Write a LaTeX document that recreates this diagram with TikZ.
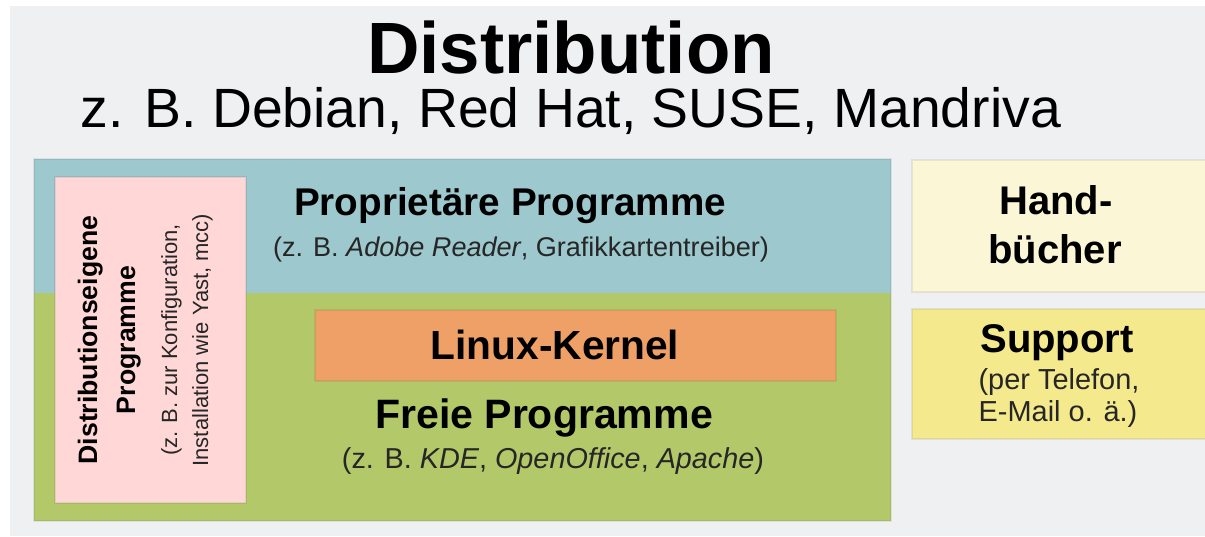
\documentclass[tikz,border=0pt]{standalone}
\usepackage{fontspec}
\setmainfont{Liberation Sans}

\definecolor{panelgray}{RGB}{239,240,242}
\definecolor{propblue}{RGB}{156,200,206}
\definecolor{freegreen}{RGB}{179,201,105}
\definecolor{distpink}{RGB}{255,215,215}
\definecolor{kernelorange}{RGB}{238,160,103}
\definecolor{manualyellow}{RGB}{251,246,214}
\definecolor{supportyellow}{RGB}{244,233,140}

\begin{document}
\begin{tikzpicture}[x=0.75pt,y=0.75pt,yscale=-1,xscale=1,
    layer/.style={draw=black,draw opacity=0.07,line width=1.5},
    head/.style={inner sep=0pt,anchor=base,font=\fontsize{30}{35}\selectfont\bfseries},
    note/.style={inner sep=0pt,anchor=base,text=black!85,font=\fontsize{21}{25}\selectfont},
    sidehead/.style={inner sep=0pt,anchor=base,rotate=90,font=\fontsize{20}{24}\selectfont\bfseries},
    sidenote/.style={inner sep=0pt,anchor=base,rotate=90,text=black!85,font=\fontsize{16.5}{20}\selectfont}]
        \useasboundingbox (0,0) rectangle (1205,536);

        %Shape: Rectangle [panel]
        \fill [panelgray] (10,6) rectangle (1205,536) ;
        %Shape: Rectangle [proprietary]
        \fill [propblue] (34,159) rectangle (891,293) ;
        %Shape: Rectangle [free]
        \fill [freegreen] (34,293) rectangle (891,521) ;
        \draw [layer] (34,159) rectangle (891,521) ;
        %Shape: Rectangle [distribution tools]
        \draw [layer,fill=distpink] (55,177) rectangle (246,503) ;
        %Shape: Rectangle [kernel]
        \draw [layer,fill=kernelorange] (315,310) rectangle (836,381) ;
        %Shape: Rectangle [manuals]
        \draw [layer,fill=manualyellow] (912,160) rectangle (1206,292) ;
        %Shape: Rectangle [support]
        \draw [layer,fill=supportyellow] (912,309) rectangle (1206,439) ;

        % Text Node
        \node (title) [inner sep=0pt,anchor=base,font=\fontsize{54.5}{60}\selectfont\bfseries] at (571,73) {Distribution};
        % Text Node
        \node (examples) [inner sep=0pt,anchor=base,font=\fontsize{41.5}{46}\selectfont] at (571,127) {z. B. Debian, Red Hat, SUSE, Mandriva};
        % Text Node
        \node (prop) [head,font=\fontsize{29}{35}\selectfont\bfseries] at (510,215) {Proprietäre Programme};
        % Text Node
        \node (propnote) [note,font=\fontsize{20.3}{25}\selectfont] at (521,256) {(z. B. \textit{Adobe Reader}, Grafikkartentreiber)};
        % Text Node
        \node (kernel) [head,font=\fontsize{30.5}{35}\selectfont\bfseries] at (555,359) {Linux-Kernel};
        % Text Node
        \node (free) [head,font=\fontsize{30.8}{35}\selectfont\bfseries] at (544,428) {Freie Programme};
        % Text Node
        \node (freenote) [note,font=\fontsize{21.6}{25}\selectfont] at (553,468) {(z. B. \textit{KDE}, \textit{OpenOffice}, \textit{Apache})};
        % Text Node
        \node (handA) [head] at (1056,214) {Hand-};
        % Text Node
        \node (handB) [head] at (1055,263) {bücher};
        % Text Node
        \node (support) [head] at (1057,352) {Support};
        % Text Node
        \node (supportA) [note,font=\fontsize{21.7}{25}\selectfont] at (1059,389) {(per Telefon,};
        % Text Node
        \node (supportB) [note,font=\fontsize{21.7}{25}\selectfont] at (1058,421) {E-Mail o. ä.)};
        % Text Node
        \node (distA) [sidehead] at (97,340) {Distributionseigene};
        % Text Node
        \node (distB) [sidehead] at (135,340) {Programme};
        % Text Node
        \node (distC) [sidenote] at (177,340) {(z. B. zur Konfiguration,};
        % Text Node
        \node (distD) [sidenote] at (208,340) {Installation wie Yast, mcc)};

    \end{tikzpicture}
\end{document}
